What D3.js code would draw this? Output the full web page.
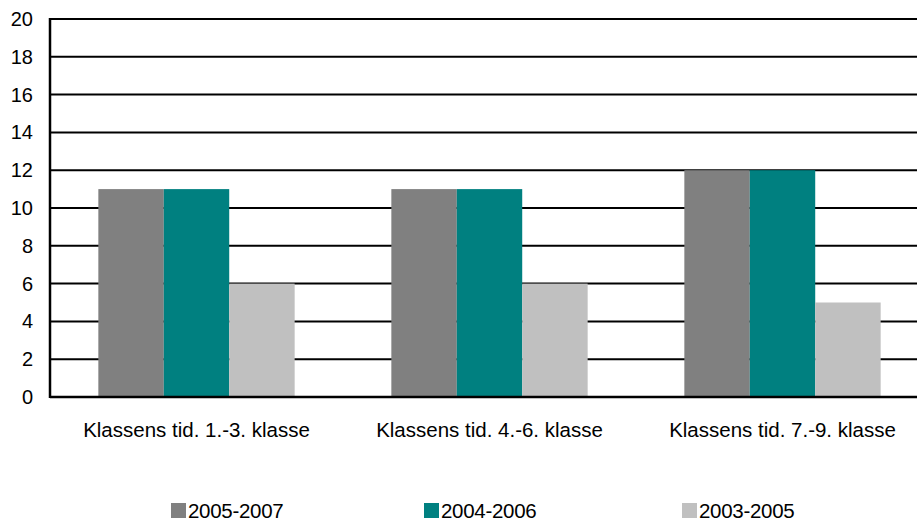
<!DOCTYPE html>
<html>
<head>
<meta charset="utf-8">
<script src="https://cdn.jsdelivr.net/npm/d3@7"></script>
<style>
  body { margin: 0; background: #fff; }
  svg text { font-family: "Liberation Sans", Arial, sans-serif; fill: #000; }
</style>
</head>
<body>
<div id="chart"></div>
<script>
// chart data
const categories = ["Klassens tid. 1.-3. klasse", "Klassens tid. 4.-6. klasse", "Klassens tid. 7.-9. klasse"];
const seriesNames = ["2005-2007", "2004-2006", "2003-2005"];
const seriesColors = ["#808080", "#008080", "#c0c0c0"];
const values2005_2007 = [11, 11, 12];
const values2004_2006 = [11, 11, 12];
const values2003_2005 = [6, 6, 5];
const yTicks = [0, 2, 4, 6, 8, 10, 12, 14, 16, 18, 20];

const seriesValues = [values2005_2007, values2004_2006, values2003_2005];

const width = 917, height = 522;
const margin = {top: 19, left: 50, bottom: 125};
const plotW = 879; // runs a bit past the right edge, as in the original
const plotH = height - margin.top - margin.bottom;

const svg = d3.select("#chart").append("svg")
    .attr("width", width)
    .attr("height", height)
    .style("display", "block");

const g = svg.append("g")
    .attr("transform", "translate(" + margin.left + "," + margin.top + ")");

let xScale = d3.scaleBand()
    .domain(categories)
    .range([0, plotW])
    .paddingInner(0.33)
    .paddingOuter(0.165);

let xSub = d3.scaleBand()
    .domain(seriesNames)
    .range([0, xScale.bandwidth()]);

let yScale = d3.scaleLinear()
    .domain([0, 20])
    .range([plotH, 0]);

// gridlines
g.append("g")
    .selectAll("line")
    .data(yTicks.filter(d => d > 0))
    .join("line")
    .attr("x1", 0)
    .attr("x2", plotW)
    .attr("y1", d => yScale(d))
    .attr("y2", d => yScale(d))
    .attr("stroke", "#000")
    .attr("stroke-width", 2);

// bars
const groups = g.append("g")
    .selectAll("g")
    .data(categories)
    .join("g")
    .attr("transform", d => "translate(" + xScale(d) + ",0)");

groups.selectAll("rect")
    .data((c, ci) => seriesNames.map((s, si) => ({s: s, si: si, v: seriesValues[si][ci]})))
    .join("rect")
    .attr("x", d => xSub(d.s))
    .attr("width", xSub.bandwidth())
    .attr("y", d => yScale(d.v))
    .attr("height", d => plotH - yScale(d.v))
    .attr("fill", d => seriesColors[d.si]);

// y axis
const yAxis = g.append("g")
    .call(d3.axisLeft(yScale).tickValues(yTicks).tickSize(0).tickPadding(17));
yAxis.select(".domain").remove();
yAxis.selectAll("text").attr("font-size", 20).attr("font-family", "Liberation Sans, Arial, sans-serif");

g.append("line")
    .attr("x1", 0).attr("x2", 0)
    .attr("y1", yScale(20) - 1).attr("y2", plotH + 1)
    .attr("stroke", "#000").attr("stroke-width", 2.5);
g.append("line")
    .attr("x1", 0).attr("x2", plotW)
    .attr("y1", plotH).attr("y2", plotH)
    .attr("stroke", "#000").attr("stroke-width", 2.5);

// x axis labels
const xAxis = g.append("g")
    .attr("transform", "translate(0," + plotH + ")")
    .call(d3.axisBottom(xScale).tickSize(0).tickPadding(25));
xAxis.select(".domain").remove();
xAxis.selectAll("text").attr("font-size", 20.5).attr("font-family", "Liberation Sans, Arial, sans-serif");

// legend (nudged up a few px so the text is not clipped)
const legendX = [171, 424, 682];
const legend = svg.append("g")
    .selectAll("g")
    .data(seriesNames)
    .join("g")
    .attr("transform", (d, i) => "translate(" + legendX[i] + ",503)");

legend.append("rect")
    .attr("width", 15)
    .attr("height", 15)
    .attr("fill", (d, i) => seriesColors[i]);

legend.append("text")
    .attr("x", 17)
    .attr("y", 15)
    .attr("font-size", 20.5)
    .attr("letter-spacing", -0.3)
    .text(d => d);
</script>
</body>
</html>
